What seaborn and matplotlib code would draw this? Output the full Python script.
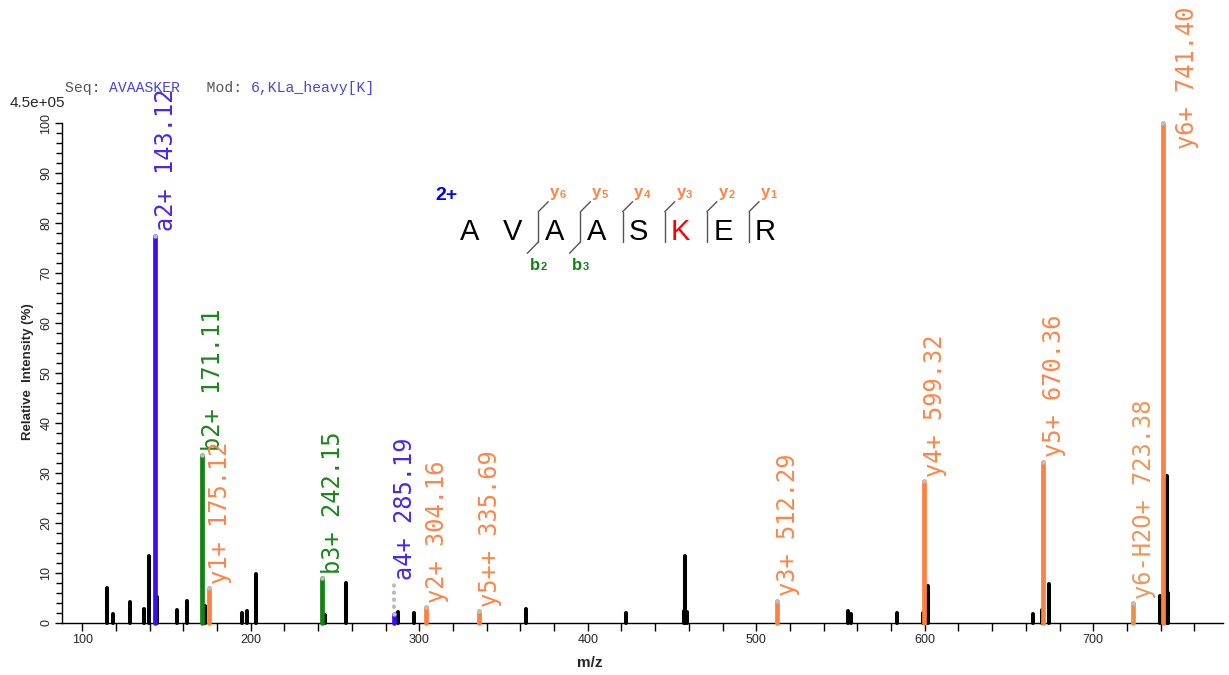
import matplotlib
matplotlib.use("Agg")
import matplotlib.pyplot as plt
from matplotlib.ticker import MultipleLocator
import pandas as pd
import seaborn as sns

# ---- spectrum data -------------------------------------------------------
# unassigned peaks (m/z, relative intensity %)
other_mz = [114.5, 118.5, 128.4, 136.7, 139.5, 144.2, 156.0, 162.0, 173.0,
            195.0, 197.6, 203.3, 244.3, 256.6, 287.6, 296.7, 363.2, 422.7,
            456.9, 457.6, 458.9, 554.7, 556.0, 583.4, 598.8, 602.1, 664.0,
            669.5, 673.7, 739.9, 743.5, 744.5]
other_int = [7.0, 1.9, 4.3, 2.9, 13.5, 5.2, 2.7, 4.4, 3.4,
             2.0, 2.4, 9.9, 1.6, 8.0, 2.2, 2.0, 2.9, 2.0,
             2.5, 13.5, 2.3, 2.5, 1.8, 2.1, 2.1, 7.5, 1.8,
             2.6, 7.8, 5.5, 29.5, 6.0]

# assigned fragment ions
ion_names = ["a2+", "b2+", "y1+", "b3+", "a4+", "y2+", "y5++", "y3+",
             "y4+", "y5+", "y6-H2O+", "y6+"]
ion_mz = [143.12, 171.11, 175.12, 242.15, 285.19, 304.16, 335.69, 512.29,
          599.32, 670.36, 723.38, 741.40]
ion_int = [77.5, 33.6, 7.0, 9.0, 1.8, 3.2, 2.4, 4.5, 28.4, 32.3, 4.0, 100.0]
ion_series = ["a", "b", "y", "b", "a", "y", "y", "y", "y", "y", "y-H2O", "y"]

# isotope guide drawn above the a4+ peak
a4_guide_top = 7.8

base_peak = "4.5e+05"
sequence = "AVAASKER"
mod_site = 6
mod_text = "6,KLa_heavy[K]"
precursor_charge = "2+"
y_ions_shown = [6, 5, 4, 3, 2, 1]
b_ions_shown = [2, 3]

# ---- styling ---------------------------------------------------------------
series_colors = {"a": "#3D0CF2", "b": "#128212", "y": "#FF7F3F", "y-H2O": "#EC8F4C"}
label_colors = {"a": "#4A25F0", "b": "#1A881A", "y": "#FF8446", "y-H2O": "#EF9658"}
label_font = "DejaVu Sans Mono"
# per-label placement tweaks (offset in points, fixed base in %)
label_layout = {"y6+": {"dx": 17, "base": 94.0}}

W, H = 1229, 675
sns.set_style("white")
plt.rcParams["font.family"] = ["Liberation Sans", "DejaVu Sans"]

fig = plt.figure(figsize=(W / 100, H / 100), dpi=100)
ax = fig.add_axes([62 / W, 52 / H, 1161 / W, 500 / H])
ax.set_xlim(88, 777)
ax.set_ylim(0, 100)

ax.vlines(other_mz, 0, other_int, colors="black", linewidth=2.9,
          capstyle="round", clip_on=False, zorder=2)

ions = pd.DataFrame({"name": ion_names, "mz": ion_mz, "intensity": ion_int,
                     "series": ion_series})
for s, grp in ions.groupby("series"):
    ax.vlines(grp["mz"], 0, grp["intensity"], colors=series_colors[s],
              linewidth=3.4, capstyle="round", clip_on=False, zorder=3)

# dotted isotope guide for a4+
a4 = ions[ions["name"] == "a4+"].iloc[0]
ax.vlines([a4["mz"]], a4["intensity"] + 1.5, a4_guide_top, colors="#BDBDBD",
          linewidth=3.0, linestyles=(0, (0.1, 1.6)), capstyle="round",
          clip_on=False, zorder=3)

# grey caps on assigned peaks
sns.scatterplot(data=ions, x="mz", y="intensity", ax=ax, color="#BEBEBE",
                s=10, linewidth=0, zorder=4, clip_on=False, legend=False)

for _, r in ions.iterrows():
    lay = label_layout.get(r["name"], {})
    base = lay.get("base", r["intensity"])
    if r["name"] == "a4+":
        base = a4_guide_top
    ax.annotate(f"{r['name']} {r['mz']:.2f}", xy=(r["mz"], base),
                xytext=(lay.get("dx", 8), 3), textcoords="offset points",
                rotation=90, ha="center", va="bottom", fontsize=17,
                family=label_font, color=label_colors[r["series"]],
                annotation_clip=False, zorder=5)

# axes styling
for side in ("top", "right"):
    ax.spines[side].set_visible(False)
for side in ("left", "bottom"):
    ax.spines[side].set_color("black")
    ax.spines[side].set_linewidth(1.0)
ax.set_xlabel("")
ax.set_ylabel("")
ax.xaxis.set_major_locator(MultipleLocator(100))
ax.xaxis.set_minor_locator(MultipleLocator(20))
ax.yaxis.set_major_locator(MultipleLocator(10))
ax.yaxis.set_minor_locator(MultipleLocator(2))
ax.tick_params(axis="x", which="both", direction="out", length=6, width=1,
               color="black", labelsize=9, pad=2, bottom=True)
ax.tick_params(axis="y", which="major", direction="out", length=5, width=1,
               color="black", labelsize=9, pad=2, left=True, labelrotation=90)
ax.tick_params(axis="y", which="minor", direction="out", length=4, width=1,
               color="black", left=True)
for t in ax.get_yticklabels():
    t.set_va("center")

# ---- overlay in pixel coordinates for text and the sequence diagram ---------
ov = fig.add_axes([0, 0, 1, 1])
ov.set_xlim(0, W)
ov.set_ylim(H, 0)
ov.axis("off")

ov.text(65, 107, base_peak, ha="right", va="baseline", fontsize=11)
ov.text(590, 663, "m/z", ha="center", va="center", fontsize=11, weight="bold")
ov.text(28, 372, "Relative  Intensity (%)", ha="center", va="center",
        rotation=90, fontsize=9.5, weight="bold")

# header line
adv = 8.85
pieces = [("Seq: ", "#555555"), (sequence, "#4B45D8"), ("   Mod: ", "#555555"),
          (mod_text, "#4B45D8")]
pos = 0
for txt, col in pieces:
    ov.text(65 + pos * adv, 92, txt, ha="left", va="baseline", fontsize=10.6,
            family="Liberation Mono", color=col)
    pos += len(txt)

# sequence diagram
x0, pitch, yc = 470.0, 42.15, 231.7
sep0 = 538.3
ov.text(446, 195, precursor_charge, ha="center", va="center", fontsize=14,
        weight="bold", color="#0000FF")
for i, aa in enumerate(sequence):
    ov.text(x0 + i * pitch, yc, aa, ha="center", va="center", fontsize=21,
            color="red" if i + 1 == mod_site else "black")

n = len(sequence)
for j in range(2, n):
    # cleavage after residue j gives b_j and y_(n-j)
    sx = sep0 + (j - 2) * pitch
    y_num, b_num = n - j, j
    top, bot = 211.7, 242.0
    ov.plot([sx, sx], [top, bot], color="#555555", lw=1.0)
    if y_num in y_ions_shown:
        ov.plot([sx, sx + 10], [top, 201.7], color="#555555", lw=1.0)
        ov.text(sx + 21, 193, "y", ha="right", va="center", fontsize=12,
                weight="bold", color=label_colors["y"])
        ov.text(sx + 21.5, 195, str(y_num), ha="left", va="center",
                fontsize=8, weight="bold", color=label_colors["y"])
    if b_num in b_ions_shown:
        ov.plot([sx, sx - 11], [bot, 253.3], color="#555555", lw=1.0)
        ov.text(sx + 2, 265, "b", ha="right", va="center", fontsize=12,
                weight="bold", color=series_colors["b"])
        ov.text(sx + 2.5, 267, str(b_num), ha="left", va="center",
                fontsize=8, weight="bold", color=series_colors["b"])

fig.savefig("out.png", dpi=100)
